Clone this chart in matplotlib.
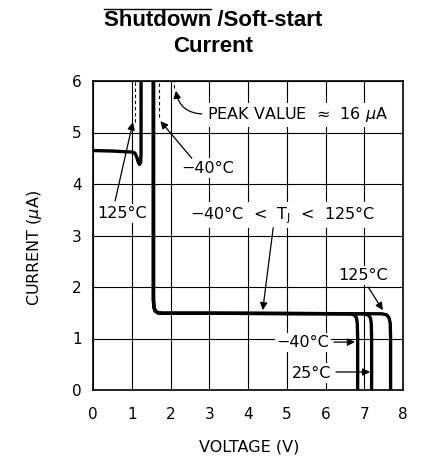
import numpy as np
import matplotlib
matplotlib.use("Agg")
from matplotlib import pyplot as plt

plt.rcParams['font.family'] = ['DejaVu Sans']
plt.rcParams['mathtext.fontset'] = 'dejavusans'

# curve data (V, uA)
x_125 = [0, 0.5, 1.0, 1.08, 1.13, 1.17, 1.20, 1.23, 1.24, 1.24, 1.56, 1.56, 1.57, 1.60, 1.67, 1.77, 3.0, 5.0, 7.45, 7.58, 7.64, 7.67, 7.68, 7.68]
y_125 = [4.65, 4.64, 4.62, 4.60, 4.52, 4.42, 4.38, 4.42, 4.60, 7.0, 7.0, 1.75, 1.62, 1.54, 1.50, 1.49, 1.49, 1.485, 1.48, 1.46, 1.40, 1.30, 1.0, 0]
x_25 = [1.56, 1.56, 1.57, 1.60, 1.67, 1.77, 3.0, 5.0, 6.98, 7.10, 7.16, 7.18, 7.19, 7.19]
y_25 = [7.0, 1.75, 1.62, 1.54, 1.50, 1.49, 1.49, 1.485, 1.48, 1.46, 1.40, 1.30, 1.0, 0]
x_m40 = [1.56, 1.56, 1.57, 1.60, 1.67, 1.77, 3.0, 5.0, 6.62, 6.74, 6.80, 6.82, 6.83, 6.83]
y_m40 = [7.0, 1.75, 1.62, 1.54, 1.50, 1.49, 1.49, 1.485, 1.48, 1.46, 1.40, 1.30, 1.0, 0]

# peak markers (dashed)
peak_x = [1.08, 1.71, 2.10]
peak_lo = [5.20, 5.30, 5.87]

xticks = [0, 1, 2, 3, 4, 5, 6, 7, 8]
yticks = [0, 1, 2, 3, 4, 5, 6]

fig = plt.figure(figsize=(4.22, 4.57), dpi=100)
ax = fig.add_axes([93/422, 67/457, 310/422, 309/457])
ax.set_xlim(0, 8)
ax.set_ylim(0, 6)
ax.set_xticks(xticks)
ax.set_yticks(yticks)
ax.grid(True, color='black', lw=0.8)
ax.tick_params(length=0, labelsize=11)
ax.tick_params(axis='x', pad=12)
ax.tick_params(axis='y', pad=8)
for s in ax.spines.values():
    s.set_linewidth(1.2)

lw = 2.4
ax.plot(x_125, y_125, color='black', lw=lw, solid_joinstyle='round', zorder=5)
ax.plot(x_25, y_25, color='black', lw=lw, solid_joinstyle='round', zorder=5)
ax.plot(x_m40, y_m40, color='black', lw=lw, solid_joinstyle='round', zorder=5)
for px, lo in zip(peak_x, peak_lo):
    ax.plot([px, px], [lo, 6], color='black', lw=0.8, ls=(0, (3, 2.5)), zorder=4)

box = dict(facecolor='white', edgecolor='none', pad=1.5)
fs = 11.5
arw = dict(arrowstyle='-|>', color='black', lw=0.9, mutation_scale=11, shrinkA=0, shrinkB=0)

ax.text(2.95, 5.34, 'PEAK VALUE  \u2248  16 $\\mu$A', ha='left', va='center', fontsize=fs,
        bbox=box, zorder=6)
ax.annotate('', xy=(2.14, 5.81), xytext=(2.81, 5.36), zorder=6,
            arrowprops=dict(arw, connectionstyle='arc3,rad=-0.4'))
ax.text(2.97, 4.31, '\u221240\u00b0C', ha='center', va='center', fontsize=fs, bbox=box, zorder=6)
ax.annotate('', xy=(1.74, 5.22), xytext=(2.55, 4.5), arrowprops=arw, zorder=6)
ax.text(0.75, 3.42, '125\u00b0C', ha='center', va='center', fontsize=fs, bbox=box, zorder=6)
ax.annotate('', xy=(1.03, 5.2), xytext=(0.57, 3.67), arrowprops=arw, zorder=6)
ax.text(4.9, 3.4, '\u221240\u00b0C  <  T$_\\mathregular{J}$  <  125\u00b0C', ha='center', va='center',
        fontsize=fs, bbox=box, zorder=6)
ax.annotate('', xy=(4.38, 1.55), xytext=(4.65, 3.15), arrowprops=arw, zorder=6)
ax.text(6.97, 2.23, '125\u00b0C', ha='center', va='center', fontsize=fs, bbox=box, zorder=6)
ax.annotate('', xy=(7.48, 1.55), xytext=(7.1, 2.0), arrowprops=arw, zorder=6)
ax.text(5.42, 0.93, '\u221240\u00b0C', ha='center', va='center', fontsize=fs, bbox=box, zorder=6)
ax.annotate('', xy=(6.76, 0.93), xytext=(6.22, 0.93), arrowprops=arw, zorder=6)
ax.text(5.65, 0.33, '25\u00b0C', ha='center', va='center', fontsize=fs, bbox=box, zorder=6)
ax.annotate('', xy=(7.15, 0.35), xytext=(6.27, 0.35), arrowprops=arw, zorder=6)

fig.text(249/422, 1 - 447/457, 'VOLTAGE (V)', ha='center', va='center', fontsize=fs)
fig.text(35/422, 1 - 248/457, 'CURRENT ($\\mu$A)', ha='center', va='center', fontsize=fs, rotation=90)

# title with overline on "Shutdown"
tfont = dict(family='Liberation Sans', weight='bold', fontsize=16)
t1 = fig.text(213/422, 1 - 20/457, 'Shutdown /Soft-start', ha='center', va='center', **tfont)
fig.text(213/422, 1 - 47/457, 'Current', ha='center', va='center', **tfont)
fig.canvas.draw()
r = fig.canvas.get_renderer()
bb = t1.get_window_extent(r)
tmp = fig.text(0, 0, 'Shutdown', **tfont)
w = tmp.get_window_extent(r).width
tmp.remove()
fig.add_artist(plt.Line2D([bb.x0 / fig.bbox.width, (bb.x0 + w) / fig.bbox.width],
                          [(bb.y1 + 1) / fig.bbox.height] * 2, color='black', lw=1.0))

fig.savefig('out.png', dpi=100)
